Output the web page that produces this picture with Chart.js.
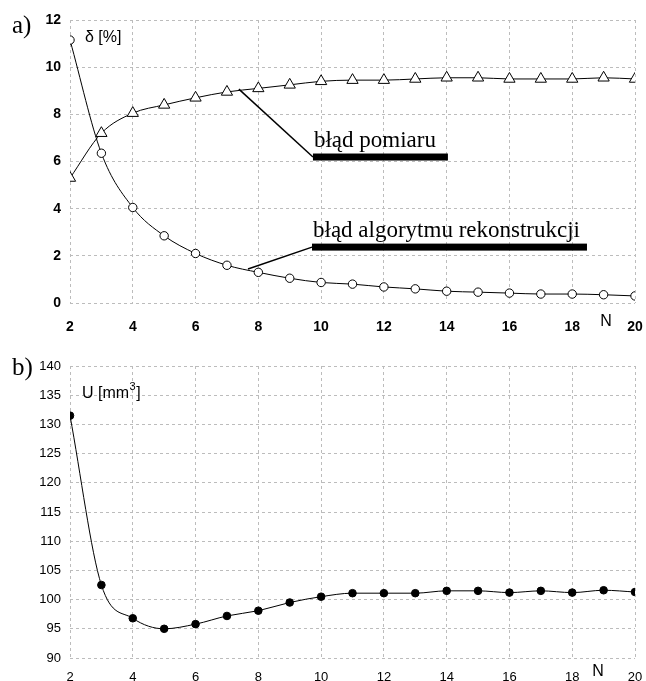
<!DOCTYPE html>
<html lang="pl">
<head>
<meta charset="UTF-8">
<title>Błąd pomiaru i błąd algorytmu rekonstrukcji</title>
<style>
    body { margin: 0; background: #fff; }
    .wrap { position: relative; width: 646px; height: 681px; overflow: hidden; }
    canvas { position: absolute; left: 0; }
    #chartA { top: 0; }
    #chartB { top: 340px; }
</style>
</head>
<body>
<div class="wrap">
    <canvas id="chartA" width="646" height="340"></canvas>
    <canvas id="chartB" width="646" height="341"></canvas>
</div>

<script src="https://cdn.jsdelivr.net/npm/chart.js"></script>
<script>
    // liczba punktów N (oś x obu wykresów)
    const N = [2, 3, 4, 5, 6, 7, 8, 9, 10, 11, 12, 13, 14, 15, 16, 17, 18, 19, 20];

    // a) błędy w %
    const bladPomiaru = [5.3, 7.2, 8.05, 8.4, 8.7, 8.95, 9.1, 9.25, 9.4, 9.45, 9.45, 9.5, 9.55, 9.55, 9.5, 9.5, 9.5, 9.55, 9.5];
    const bladAlgorytmu = [11.15, 6.35, 4.05, 2.85, 2.1, 1.6, 1.3, 1.05, 0.87, 0.8, 0.68, 0.6, 0.5, 0.46, 0.42, 0.38, 0.38, 0.35, 0.3];

    // b) objętość U w mm3
    const objetosc = [131.5, 102.5, 96.8, 95.0, 95.8, 97.2, 98.1, 99.5, 100.5, 101.1, 101.1, 101.1, 101.5, 101.5, 101.2, 101.5, 101.2, 101.6, 101.3];

    const xTicks = [2, 4, 6, 8, 10, 12, 14, 16, 18, 20];
    const yTicksA = [0, 2, 4, 6, 8, 10, 12];
    const yTicksB = [90, 95, 100, 105, 110, 115, 120, 125, 130, 135, 140];

    const SANS = '"Liberation Sans", Arial, sans-serif';
    const SERIF = '"Liberation Serif", "Times New Roman", serif';

    // napisy, opisy i odnośniki rysowane na wykresie
    const napisy = {
        id: 'napisy',
        afterDatasetsDraw(chart, args, opts) {
            const { ctx, chartArea } = chart;
            const sx = chart.scales.x, sy = chart.scales.y;
            ctx.save();
            ctx.fillStyle = '#000';
            ctx.strokeStyle = '#000';
            ctx.textBaseline = 'alphabetic';

            // a) / b)
            ctx.font = '25px ' + SERIF;
            ctx.fillText(opts.panel, 12, opts.panelY);

            // tytuł osi y (z ewentualnym wykładnikiem)
            ctx.font = '16px ' + SANS;
            ctx.textBaseline = 'middle';
            let tx = chartArea.left + opts.yTitleDx;
            const ty = chartArea.top + opts.yTitleDy;
            ctx.fillText(opts.yTitle, tx, ty);
            if (opts.yTitleSup) {
                tx += ctx.measureText(opts.yTitle).width;
                ctx.font = '11px ' + SANS;
                ctx.fillText(opts.yTitleSup, tx + 0.5, ty - 7);
                tx += ctx.measureText(opts.yTitleSup).width + 1;
                ctx.font = '16px ' + SANS;
                ctx.fillText(opts.yTitleEnd, tx, ty);
            }

            // N na osi x
            ctx.font = '16px ' + SANS;
            ctx.textAlign = 'center';
            ctx.fillText('N', sx.getPixelForValue(opts.nAt), chartArea.bottom + opts.nDy);

            // opisy krzywych
            ctx.textAlign = 'left';
            ctx.textBaseline = 'alphabetic';
            ctx.font = '23px ' + SERIF;
            (opts.opisy || []).forEach(o => {
                const x0 = sx.getPixelForValue(o.x0);
                const x1 = sx.getPixelForValue(o.x1);
                const yb = sy.getPixelForValue(o.y);
                ctx.lineWidth = 1.5;
                ctx.beginPath();
                ctx.moveTo(sx.getPixelForValue(o.px), sy.getPixelForValue(o.py));
                ctx.lineTo(x0, yb);
                ctx.stroke();
                ctx.fillRect(x0, yb - 3.5, x1 - x0, 7);
                ctx.fillText(o.text, x0 + 1, yb - 10);
            });
            ctx.restore();
        }
    };

    function gridStyle() {
        return {
            color: '#bcbcbc',
            lineWidth: 1,
            drawTicks: false
        };
    }

    function makeScales(yMin, yMax, yTicks, xHeight, xPad, bold) {
        const tickFont = { family: SANS, size: bold ? 14 : 13, weight: bold ? 'bold' : 'normal' };
        return {
            x: {
                type: 'linear',
                min: 2,
                max: 20,
                afterBuildTicks: s => { s.ticks = xTicks.map(v => ({ value: v })); },
                afterFit: s => {
                    s.height = xHeight;
                    s.paddingLeft = 0;
                    s.paddingRight = 9;
                },
                ticks: { color: '#000', padding: xPad, font: tickFont },
                grid: gridStyle(),
                border: { display: false, dash: [3, 3] }
            },
            y: {
                min: yMin,
                max: yMax,
                afterBuildTicks: s => { s.ticks = yTicks.map(v => ({ value: v })); },
                afterFit: s => { s.width = 70; },
                ticks: { color: '#000', padding: 9, font: tickFont },
                grid: gridStyle(),
                border: { display: false, dash: [3, 3] }
            }
        };
    }

    const pts = arr => N.map((n, i) => ({ x: n, y: arr[i] }));

    new Chart(document.getElementById('chartA'), {
        type: 'line',
        data: {
            datasets: [{
                label: 'błąd pomiaru',
                data: pts(bladPomiaru),
                borderColor: '#000',
                borderWidth: 1,
                cubicInterpolationMode: 'monotone',
                pointStyle: 'triangle',
                pointRadius: 6.5,
                pointBorderWidth: 1,
                pointBorderColor: '#000',
                pointBackgroundColor: '#fff'
            }, {
                label: 'błąd algorytmu rekonstrukcji',
                data: pts(bladAlgorytmu),
                borderColor: '#000',
                borderWidth: 1,
                cubicInterpolationMode: 'monotone',
                pointStyle: 'circle',
                pointRadius: 4.2,
                pointBorderWidth: 1,
                pointBorderColor: '#000',
                pointBackgroundColor: '#fff'
            }]
        },
        options: {
            responsive: false,
            animation: false,
            layout: { padding: { top: 20, right: 11, left: 0, bottom: 0 } },
            scales: makeScales(0, 12, yTicksA, 37, 16, true),
            plugins: {
                legend: { display: false },
                tooltip: { enabled: false },
                napisy: {
                    panel: 'a)', panelY: 33,
                    yTitle: 'δ [%]', yTitleDx: 15, yTitleDy: 18,
                    nAt: 19.08, nDy: 19,
                    opisy: [
                        { text: 'błąd pomiaru', x0: 9.74, x1: 14.04, y: 6.19, px: 7.38, py: 9.07 },
                        { text: 'błąd algorytmu rekonstrukcji', x0: 9.71, x1: 18.47, y: 2.37, px: 7.67, py: 1.44 }
                    ]
                }
            }
        },
        plugins: [napisy]
    });

    new Chart(document.getElementById('chartB'), {
        type: 'line',
        data: {
            datasets: [{
                label: 'U',
                data: pts(objetosc),
                borderColor: '#000',
                borderWidth: 1,
                cubicInterpolationMode: 'monotone',
                pointStyle: 'circle',
                pointRadius: 3.8,
                pointBorderWidth: 1,
                pointBorderColor: '#000',
                pointBackgroundColor: '#000'
            }]
        },
        options: {
            responsive: false,
            animation: false,
            layout: { padding: { top: 26, right: 11, left: 0, bottom: 0 } },
            scales: makeScales(90, 140, yTicksB, 23, 12, false),
            plugins: {
                legend: { display: false },
                tooltip: { enabled: false },
                napisy: {
                    panel: 'b)', panelY: 35,
                    yTitle: 'U [mm', yTitleSup: '3', yTitleEnd: ']', yTitleDx: 12, yTitleDy: 28,
                    nAt: 18.82, nDy: 14,
                    opisy: []
                }
            }
        },
        plugins: [napisy]
    });
</script>
</body>
</html>
